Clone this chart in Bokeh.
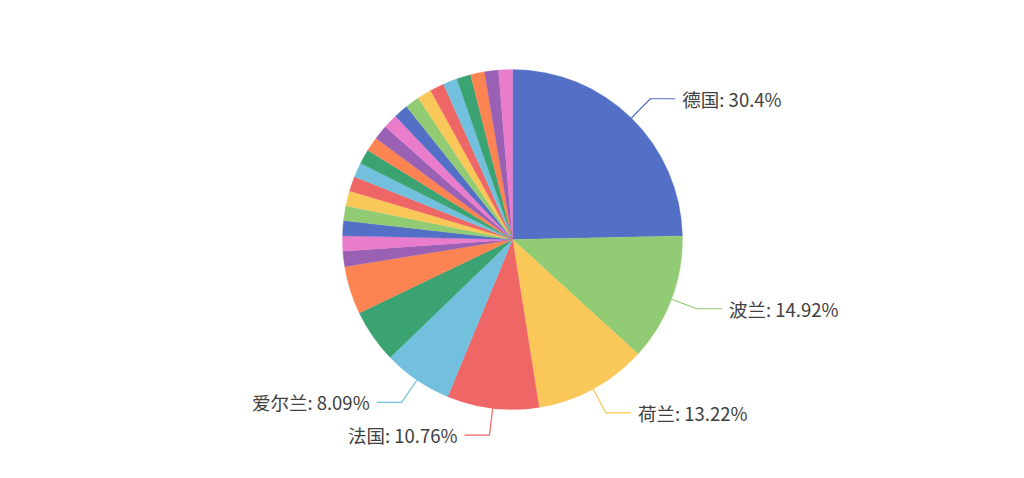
import numpy as np
from bokeh.plotting import figure
from bokeh.models import Range1d
from bokeh.embed import file_html
from bokeh.resources import INLINE
from bokeh.core.properties import value

# ---- data ----
countries = ["德国", "波兰", "荷兰", "法国", "爱尔兰", "意大利", "西班牙", "比利时", "奥地利",
             "瑞典", "捷克", "丹麦", "芬兰", "匈牙利", "葡萄牙", "斯洛伐克", "罗马尼亚", "立陶宛",
             "希腊", "卢森堡", "斯洛文尼亚", "保加利亚", "克罗地亚", "拉脱维亚", "爱沙尼亚",
             "塞浦路斯", "马耳他"]
shares = [30.4, 14.92, 13.22, 10.76, 8.09, 6.27, 5.62,
          1.8, 1.78, 1.76, 1.75, 1.74, 1.73, 1.72, 1.71, 1.7, 1.7, 1.69,
          1.68, 1.68, 1.67, 1.66, 1.66, 1.65, 1.64, 1.63, 1.62]
labeled_count = 5

palette = ['#5470c6', '#91cc75', '#fac858', '#ee6666', '#73c0de',
           '#3ba272', '#fc8452', '#9a60b4', '#ea7ccc']

# ---- layout ----
W, H = 1008, 462
cx, cy = 512, H - 239
R = 170
L1, L2, GAP = 27, 25, 7

p = figure(width=W, height=H, output_backend="svg", toolbar_location=None,
           x_range=Range1d(0, W), y_range=Range1d(0, H), min_border=0)
p.axis.visible = False
p.grid.visible = False
p.outline_line_color = None
p.background_fill_color = "white"
p.border_fill_color = "white"

vals = np.array(shares, dtype=float)
cum = np.concatenate([[0.0], np.cumsum(vals / vals.sum())]) * 2 * np.pi
colors = [palette[i % len(palette)] for i in range(len(vals))]

p.wedge(x=cx, y=cy, radius=R, start_angle=np.pi / 2 - cum[:-1], end_angle=np.pi / 2 - cum[1:],
        direction="clock", fill_color=colors, line_color=colors, line_width=0.3)

for i in range(labeled_count):
    mid = (cum[i] + cum[i + 1]) / 2
    sx, sy = np.sin(mid), np.cos(mid)
    x0, y0 = cx + R * sx, cy + R * sy
    x1, y1 = cx + (R + L1) * sx, cy + (R + L1) * sy
    side = 1 if sx >= 0 else -1
    x2 = x1 + side * L2
    p.line([x0, x1, x2], [y0, y1, y1], line_color=colors[i], line_width=1.2)
    p.text(x=[x2 + side * GAP], y=[y1], text=[f"{countries[i]}: {shares[i]}%"],
           text_font=value("Noto Sans CJK SC"), text_font_size="18.5px",
           text_color="#404040", text_baseline="middle",
           text_align="left" if side > 0 else "right")

open("out.html", "w").write(file_html(p, INLINE))
